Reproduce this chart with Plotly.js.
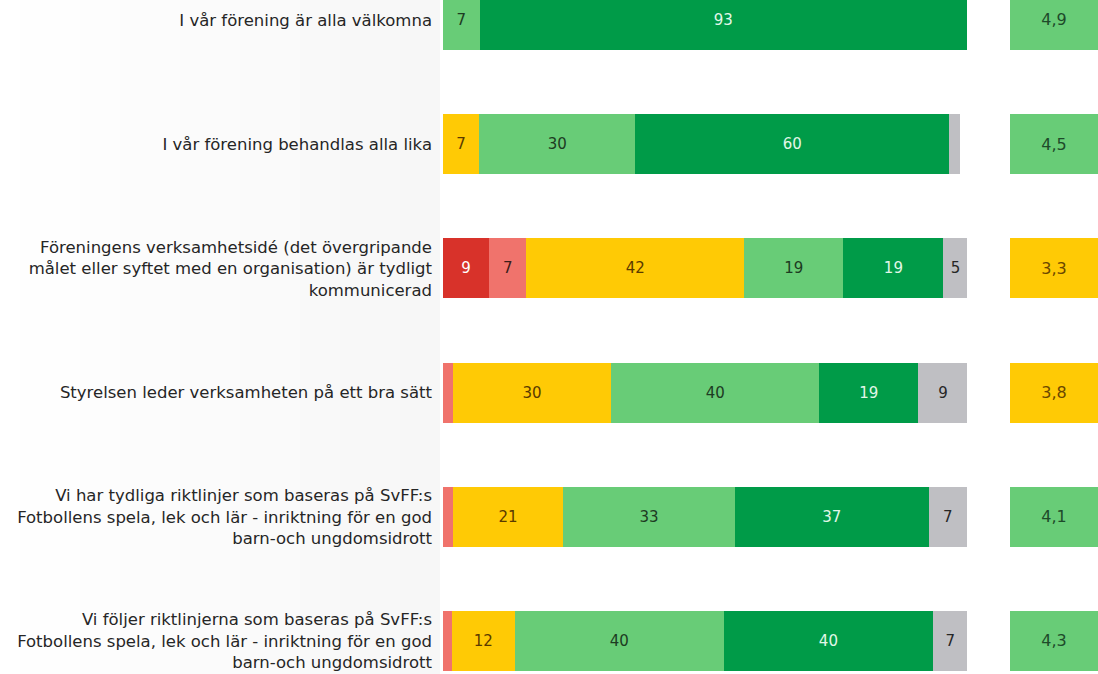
<!DOCTYPE html>
<html>
<head>
<meta charset="utf-8">
<script src="https://cdn.plot.ly/plotly-3.0.1.min.js"></script>
<style>
html,body{margin:0;padding:0;background:#fff;overflow:hidden;}
#chart{width:1098px;height:674px;}
</style>
</head>
<body>
<div id="chart"></div>
<script>
// Categories (top to bottom)
var categories = [
  "I vår förening är alla välkomna",
  "I vår förening behandlas alla lika",
  "Föreningens verksamhetsidé (det övergripande<br>målet eller syftet med en organisation) är tydligt<br>kommunicerad",
  "Styrelsen leder verksamheten på ett bra sätt",
  "Vi har tydliga riktlinjer som baseras på SvFF:s<br>Fotbollens spela, lek och lär - inriktning för en god<br>barn-och ungdomsidrott",
  "Vi följer riktlinjerna som baseras på SvFF:s<br>Fotbollens spela, lek och lär - inriktning för en god<br>barn-och ungdomsidrott"
];

// Percent shares per response level
var level1 = [0, 0, 8.8, 0, 0, 0];
var level2 = [0, 0, 7.1, 1.9, 1.9, 1.7];
var level3 = [0, 6.9, 41.6, 30.2, 21.0, 12.0];
var level4 = [7.0, 29.8, 18.9, 39.7, 32.8, 39.9];
var level5 = [93.0, 59.9, 19.1, 18.9, 37.0, 39.9];
var dontKnow = [0, 2.1, 4.6, 9.4, 7.3, 6.6];

// Average scores
var scores = [4.9, 4.5, 3.3, 3.8, 4.1, 4.3];

var seriesNames = ["1", "2", "3", "4", "5", "Vet ej"];
var seriesValues = [level1, level2, level3, level4, level5, dontKnow];
var seriesColors = ["#D8322A", "#F0736C", "#FFCA05", "#68CC77", "#009B48", "#BFBFC3"];
var seriesTextColors = ["#ffffff", "#3a1d1a", "#5a3a00", "#1d3b22", "#e2f7e8", "#262626"];

var FONT = '"DejaVu Sans", Verdana, sans-serif';

var traces = seriesValues.map(function (vals, i) {
  return {
    type: "bar",
    orientation: "h",
    name: seriesNames[i],
    y: categories,
    x: vals,
    xaxis: "x",
    yaxis: "y",
    marker: {color: seriesColors[i], line: {width: 0}},
    text: vals.map(function (v) { return v >= 3 ? String(Math.round(v)) : ""; }),
    texttemplate: "%{text}",
    textposition: "inside",
    insidetextanchor: "middle",
    textangle: 0,
    constraintext: "none",
    textfont: {family: FONT, size: 15, color: seriesTextColors[i]},
    hoverinfo: "skip",
    showlegend: false
  };
});

// Score boxes
traces.push({
  type: "bar",
  orientation: "h",
  y: categories,
  x: scores.map(function () { return 1; }),
  customdata: scores,
  xaxis: "x2",
  yaxis: "y",
  marker: {color: scores.map(function (s) { return s >= 4 ? "#68CC77" : "#FFCA05"; }), line: {width: 0}},
  texttemplate: "%{customdata:.1f}",
  textposition: "inside",
  insidetextanchor: "middle",
  textangle: 0,
  constraintext: "none",
  textfont: {family: FONT, size: 16, color: scores.map(function (s) { return s >= 4 ? "#1e4a2a" : "#6b4700"; })},
  hoverinfo: "skip",
  showlegend: false
});

// Left background gradient (white -> very light gray)
var shapes = [];
var steps = 22;
for (var k = 0; k < steps; k++) {
  var g = Math.round(255 - (k + 1) * (8 / steps));
  shapes.push({
    type: "rect", xref: "paper", yref: "paper", layer: "below",
    x0: (k * 20) / 1098, x1: ((k + 1) * 20) / 1098, y0: 0, y1: 1,
    fillcolor: "rgb(" + g + "," + g + "," + g + ")", line: {width: 0}
  });
}

var layout = {
  width: 1098,
  height: 674,
  margin: {l: 0, r: 0, t: 0, b: 0, pad: 0},
  paper_bgcolor: "#ffffff",
  plot_bgcolor: "rgba(0,0,0,0)",
  barmode: "stack",
  bargap: 0.517,
  separators: ", ",
  hovermode: false,
  showlegend: false,
  font: {family: FONT, size: 16, color: "#222222"},
  xaxis: {
    domain: [443 / 1098, 967 / 1098],
    range: [0, 100],
    visible: false,
    fixedrange: true
  },
  xaxis2: {
    domain: [1010 / 1098, 1],
    range: [0, 1],
    visible: false,
    anchor: "y",
    fixedrange: true
  },
  yaxis: {
    type: "category",
    range: [5.266, -0.161],
    showgrid: false,
    zeroline: false,
    showline: false,
    ticks: "",
    ticklabelstandoff: 10,
    automargin: false,
    tickfont: {family: FONT, size: 16.5, color: "#262626"},
    fixedrange: true
  },
  shapes: shapes
};

Plotly.newPlot("chart", traces, layout, {displayModeBar: false, staticPlot: true});
</script>
</body>
</html>
